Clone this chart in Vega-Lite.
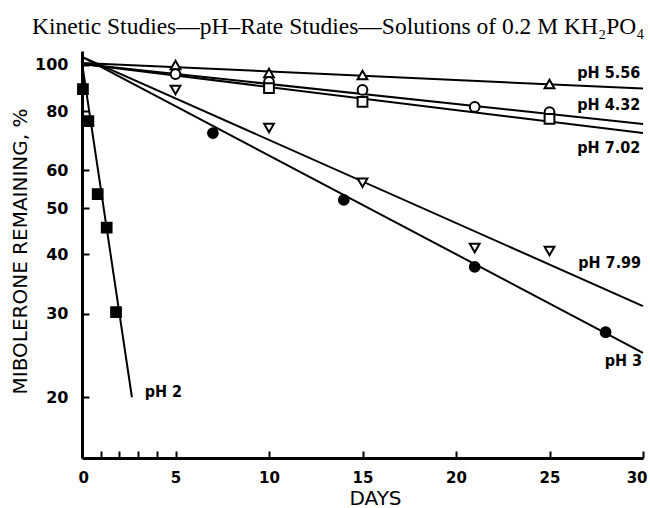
{
  "$schema": "https://vega.github.io/schema/vega-lite/v6.json",
  "width": 561,
  "height": 407,
  "autosize": {"type": "none"},
  "padding": {"left": 82, "top": 51, "right": 7, "bottom": 50},
  "background": "white",
  "title": {
    "text": "Kinetic Studies—pH–Rate Studies—Solutions of 0.2 M KH₂PO₄",
    "font": "Liberation Serif",
    "fontSize": 23.5,
    "fontWeight": "normal",
    "color": "black",
    "anchor": "start",
    "frame": "group",
    "dx": -50,
    "dy": 19,
    "offset": 13,
    "baseline": "alphabetic"
  },
  "config": {
    "view": {"stroke": null},
    "axis": {
      "grid": false,
      "domainColor": "black",
      "tickColor": "black",
      "labelColor": "black",
      "titleColor": "black"
    }
  },
  "datasets": {
    "points": [
      {"series": "pH 2", "day": 0.05, "value": 89.0},
      {"series": "pH 2", "day": 0.34, "value": 76.2},
      {"series": "pH 2", "day": 0.84, "value": 53.5},
      {"series": "pH 2", "day": 1.32, "value": 45.5},
      {"series": "pH 2", "day": 1.82, "value": 30.2},
      {"series": "pH 3", "day": 7, "value": 71.9},
      {"series": "pH 3", "day": 14, "value": 52.0},
      {"series": "pH 3", "day": 21, "value": 37.6},
      {"series": "pH 3", "day": 28, "value": 27.4},
      {"series": "pH 7.99", "day": 5, "value": 88.6},
      {"series": "pH 7.99", "day": 10, "value": 73.7},
      {"series": "pH 7.99", "day": 15, "value": 56.5},
      {"series": "pH 7.99", "day": 21, "value": 41.2},
      {"series": "pH 7.99", "day": 25, "value": 40.6},
      {"series": "pH 5.56", "day": 5, "value": 100.0},
      {"series": "pH 5.56", "day": 10, "value": 96.2},
      {"series": "pH 5.56", "day": 15, "value": 95.3},
      {"series": "pH 5.56", "day": 25, "value": 91.2},
      {"series": "pH 4.32", "day": 5, "value": 95.7},
      {"series": "pH 4.32", "day": 10, "value": 92.1},
      {"series": "pH 4.32", "day": 15, "value": 88.6},
      {"series": "pH 4.32", "day": 21, "value": 81.6},
      {"series": "pH 4.32", "day": 25, "value": 79.6},
      {"series": "pH 7.02", "day": 10, "value": 89.4},
      {"series": "pH 7.02", "day": 15, "value": 83.6},
      {"series": "pH 7.02", "day": 25, "value": 77.0}
    ],
    "lines": [
      {"series": "pH 2", "day": 0, "value": 101},
      {"series": "pH 2", "day": 2.67, "value": 20},
      {"series": "pH 3", "day": 0, "value": 104},
      {"series": "pH 3", "day": 30, "value": 24.8},
      {"series": "pH 7.99", "day": 0, "value": 104},
      {"series": "pH 7.99", "day": 30, "value": 31.1},
      {"series": "pH 5.56", "day": 0, "value": 101},
      {"series": "pH 5.56", "day": 30, "value": 89.2},
      {"series": "pH 4.32", "day": 0, "value": 100.5},
      {"series": "pH 4.32", "day": 30, "value": 75.1},
      {"series": "pH 7.02", "day": 0, "value": 100.5},
      {"series": "pH 7.02", "day": 30, "value": 71.9}
    ],
    "labels": [
      {"series": "pH 5.56", "day": 29.85, "value": 96.2},
      {"series": "pH 4.32", "day": 29.85, "value": 82.4},
      {"series": "pH 7.02", "day": 29.85, "value": 66.9},
      {"series": "pH 7.99", "day": 29.9, "value": 38.3},
      {"series": "pH 3", "day": 29.95, "value": 23.8},
      {"series": "pH 2", "day": 5.35, "value": 20.5}
    ]
  },
  "layer": [
    {
      "data": {"name": "lines"},
      "mark": {"type": "line", "color": "black", "strokeWidth": 2},
      "encoding": {
        "x": {
          "field": "day", "type": "quantitative",
          "scale": {"domain": [0, 30], "nice": false},
          "axis": {
            "values": [0, 1, 2, 3, 4, 5, 10, 15, 20, 25, 30],
            "labelExpr": "datum.value % 5 == 0 ? datum.label : ''",
            "tickSize": -7,
            "tickWidth": 2,
            "domainWidth": 3,
            "labelFont": "DejaVu Sans",
            "labelFontWeight": "bold",
            "labelFontSize": 15,
            "labelPadding": 19,
            "labelFlush": true,
            "labelFlushOffset": 4,
            "title": "DAYS",
            "titleFont": "DejaVu Sans",
            "titleFontWeight": "normal",
            "titleFontSize": 20,
            "titleX": 293,
            "titleY": 46,
            "titleBaseline": "alphabetic"
          }
        },
        "y": {
          "field": "value", "type": "quantitative",
          "scale": {"type": "log", "domain": [14.9, 107], "nice": false},
          "axis": {
            "values": [20, 30, 40, 50, 60, 80, 100],
            "format": "d",
            "tickSize": -7,
            "tickWidth": 2,
            "domainWidth": 3,
            "labelFont": "DejaVu Sans",
            "labelFontWeight": "bold",
            "labelFontSize": 16,
            "labelPadding": 21,
            "title": "MIBOLERONE REMAINING, %",
            "titleFont": "DejaVu Sans",
            "titleFontWeight": "normal",
            "titleFontSize": 20,
            "titleAngle": -90,
            "titleX": -62,
            "titleY": 200,
            "titleAlign": "center",
            "titleBaseline": "middle"
          }
        },
        "detail": {"field": "series"}
      }
    },
    {
      "data": {"name": "points"},
      "mark": {"type": "point", "filled": true, "stroke": "black", "strokeWidth": 2, "size": 95, "opacity": 1},
      "encoding": {
        "x": {"field": "day", "type": "quantitative"},
        "y": {"field": "value", "type": "quantitative"},
        "shape": {
          "field": "series", "type": "nominal", "legend": null,
          "scale": {
            "domain": ["pH 2", "pH 3", "pH 7.99", "pH 5.56", "pH 4.32", "pH 7.02"],
            "range": ["square", "circle", "triangle-down", "triangle-up", "circle", "square"]
          }
        },
        "fill": {
          "field": "series", "type": "nominal", "legend": null,
          "scale": {
            "domain": ["pH 2", "pH 3", "pH 7.99", "pH 5.56", "pH 4.32", "pH 7.02"],
            "range": ["black", "black", "white", "white", "white", "white"]
          }
        }
      }
    },
    {
      "data": {"name": "labels"},
      "mark": {"type": "text", "align": "right", "baseline": "middle", "font": "DejaVu Sans Condensed", "fontWeight": "bold", "fontSize": 16, "color": "black"},
      "encoding": {
        "x": {"field": "day", "type": "quantitative"},
        "y": {"field": "value", "type": "quantitative"},
        "text": {"field": "series"}
      }
    }
  ]
}
